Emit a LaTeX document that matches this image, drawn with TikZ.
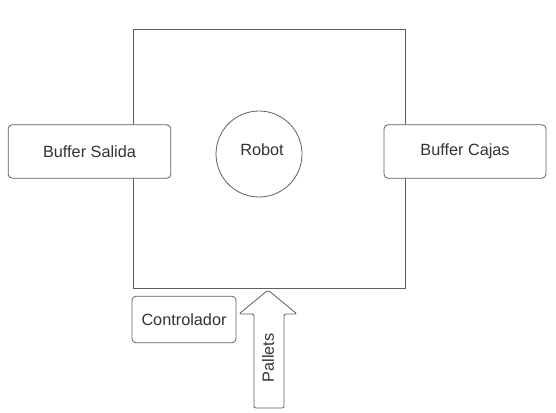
\documentclass[tikz,border=0pt]{standalone}
\usepackage{fontspec}
\setmainfont{Liberation Sans}
\usepackage{tikz}
\usetikzlibrary{positioning}

\definecolor{linegray}{HTML}{5F5F5F}
\definecolor{textgray}{HTML}{333333}

\begin{document}
\begin{tikzpicture}[
			x=0.75pt, y=-0.75pt,
			cell/.style={rectangle, draw=linegray, line width=0.7pt, minimum width=204pt, minimum height=194.25pt, inner sep=0pt},
			buffer/.style={rectangle, draw=linegray, fill=white, line width=0.6pt, rounded corners=3pt, minimum height=40pt, font=\fontsize{12.2}{14}\selectfont, text=textgray},
			robot/.style={circle, draw=linegray, line width=0.6pt, minimum size=64.5pt, inner sep=0pt, font=\fontsize{12.2}{14}\selectfont, text=textgray},
			arrowshape/.style={draw=linegray, fill=white, line width=0.6pt, rounded corners=1.5pt},
			label_text/.style={font=\fontsize{12.2}{14}\selectfont, text=textgray, inner sep=0pt}
			]
			\useasboundingbox (0,0) rectangle (556,412);
			
			% Work cell
			\node[cell] (cell) at (269,158.5) {};
			
			% Buffers on both sides
			\node[buffer, minimum width=122pt] (salida) at (89.5,151.5) {Buffer Salida};
			\node[buffer, minimum width=121.5pt] (cajas) at (465,151.5) {Buffer Cajas};
			
			% Robot in the middle
			\node[robot] (robot) at (259,154) {};
			\node[label_text] (robotlbl) at (262,150) {Robot};
			
			% Controller below the cell
			\node[buffer, minimum width=78pt, minimum height=35pt] (ctrl) at (184,319.5) {Controlador};
			
			% Pallets input arrow
			\draw[arrowshape] (254,408) -- (254,314) -- (239,314) -- (268,290) -- (297,314) -- (284,314) -- (284,408) -- cycle;
			\node[label_text, rotate=90] (pallets) at (268,358) {Pallets};
			
		\end{tikzpicture}
\end{document}
